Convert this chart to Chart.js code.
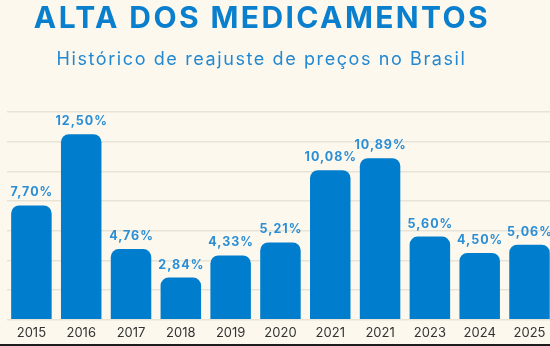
<!DOCTYPE html>
<html>
<head>
<meta charset="utf-8">
<script src="https://cdn.jsdelivr.net/npm/chart.js@4"></script>
<style>
	html, body { margin: 0; padding: 0; }
	body {
		width: 550px;
		height: 346px;
		overflow: hidden;
		position: relative;
		background: #fcf8ee;
		font-family: Inter, sans-serif;
	}
	.title {
		position: absolute;
		left: 0;
		top: -1px;
		width: 524px;
		text-align: center;
		font-size: 30px;
		font-weight: 700;
		letter-spacing: 2.4px;
		color: #0a7fcd;
		line-height: 36px;
	}
	.subtitle {
		position: absolute;
		left: 0;
		top: 48px;
		width: 523px;
		text-align: center;
		font-size: 18px;
		letter-spacing: 1.6px;
		color: #2388d0;
		line-height: 22px;
	}
	.chart-box {
		position: absolute;
		left: 0;
		top: 0;
		width: 560px;
		height: 350px;
	}
	.bottom-rule {
		position: absolute;
		left: 0;
		bottom: 0;
		width: 550px;
		height: 2px;
		background: #1c1c1c;
	}
</style>
</head>
<body>
<div class="chart-box"><canvas class="price-chart"></canvas></div>
<div class="title">ALTA DOS MEDICAMENTOS</div>
<div class="subtitle">Histórico de reajuste de preços no Brasil</div>
<div class="bottom-rule"></div>
<script>
	// Years as printed on the axis
	const years = ['2015', '2016', '2017', '2018', '2019', '2020', '2021', '2021', '2023', '2024', '2025'];

	// Yearly price adjustment in percent
	const adjustments = [7.70, 12.50, 4.76, 2.84, 4.33, 5.21, 10.08, 10.89, 5.60, 4.50, 5.06];

	// Value scale
	const yMax = 14;
	const yStep = 2;

	// Write the percentage above each bar
	const valueLabels = {
		id: 'valueLabels',
		afterDatasetsDraw(chart) {
			const ctx = chart.ctx;
			const meta = chart.getDatasetMeta(0);
			ctx.save();
			ctx.font = '700 12.5px Inter, sans-serif';
			ctx.fillStyle = '#2a8ed6';
			ctx.textAlign = 'center';
			ctx.textBaseline = 'alphabetic';
			ctx.letterSpacing = '1px';
			meta.data.forEach((bar, i) => {
				const text = adjustments[i].toFixed(2).replace('.', ',') + '%';
				ctx.fillText(text, bar.x + 0.5, bar.y - 9);
			});
			ctx.restore();
		}
	};

	new Chart(document.querySelector('.price-chart'), {
		type: 'bar',
		data: {
			labels: years,
			datasets: [{
				data: adjustments,
				backgroundColor: '#007dcc',
				borderRadius: { topLeft: 8, topRight: 8, bottomLeft: 0, bottomRight: 0 },
				borderSkipped: false,
				categoryPercentage: 1,
				barPercentage: 0.813
			}]
		},
		options: {
			responsive: true,
			maintainAspectRatio: false,
			animation: false,
			layout: {
				padding: { left: 6.5, right: 5.6, top: 112, bottom: 2.7 }
			},
			plugins: {
				legend: { display: false },
				tooltip: { enabled: false }
			},
			scales: {
				x: {
					grid: { display: false, drawTicks: false },
					border: { display: false },
					ticks: {
						color: '#333333',
						padding: 6,
						font: { family: 'Inter', size: 13 }
					}
				},
				y: {
					min: 0,
					max: yMax,
					border: { display: false },
					grid: { color: '#e8e3d7', lineWidth: 1.5, drawTicks: false },
					ticks: { display: false, stepSize: yStep }
				}
			}
		},
		plugins: [valueLabels]
	});
</script>
</body>
</html>
